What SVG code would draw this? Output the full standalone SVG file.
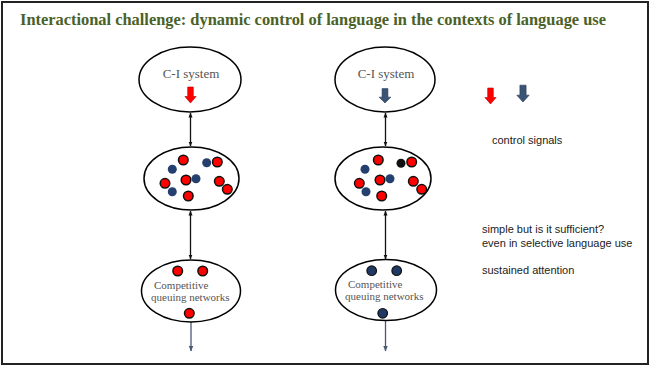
<svg xmlns="http://www.w3.org/2000/svg" width="651" height="367" viewBox="0 0 651 367">
<style>
.frame{fill:#fff;stroke:#222;stroke-width:2}
.title{font-family:"Liberation Serif",serif;font-weight:bold;font-size:16px;fill:#4A6127}
.ell{fill:#fff;stroke:#000;stroke-width:1.5}
.lbl{font-family:"Liberation Serif",serif;font-size:13px;fill:#555}
.lbl2{font-family:"Liberation Serif",serif;font-size:11px;fill:#555}
.side{font-family:"Liberation Sans",Arial,sans-serif;font-size:11px;fill:#222}
.red{fill:#FF0000;stroke:#111;stroke-width:1.5}
.navy{fill:#1F3864;stroke:#111;stroke-width:1.2}
.blur{fill:#24406E}
.blk{fill:#111}
.dbl{stroke:#111;stroke-width:1.3;fill:none;marker-start:url(#ah);marker-end:url(#ah)}
.out{stroke:#4A5A75;stroke-width:1.3;fill:none;marker-end:url(#ahb)}
.rarrow{fill:#FF0000;stroke:#B00000;stroke-width:0.6}
.barrow{fill:#3B5476;stroke:#2A3E58;stroke-width:0.6}
</style>
<defs>
<marker id="ah" viewBox="0 0 10 10" refX="9" refY="5" markerWidth="5" markerHeight="5" orient="auto-start-reverse" markerUnits="userSpaceOnUse">
<path d="M0,1 L10,5 L0,9 Z" fill="#111"/>
</marker>
<marker id="ahb" viewBox="0 0 10 10" refX="9" refY="5" markerWidth="6" markerHeight="6" orient="auto" markerUnits="userSpaceOnUse">
<path d="M0,1 L10,5 L0,9 Z" fill="#4A5A75"/>
</marker>
<path id="blockArrow" d="M-2.8,-16 L2.8,-16 L2.8,-6.5 L5.6,-6.5 L0,0 L-5.6,-6.5 L-2.8,-6.5 Z"/>
</defs>

<rect class="frame" x="2" y="2" width="646" height="362"/>
<text class="title" x="20" y="25" textLength="586" lengthAdjust="spacingAndGlyphs">Interactional challenge: dynamic control of language in the contexts of language use</text>

<g id="connectors">
<line class="dbl" x1="190.5" y1="113" x2="190.5" y2="146"/>
<line class="dbl" x1="190.5" y1="211" x2="190.5" y2="259"/>
<line class="out" x1="191" y1="322" x2="191" y2="351"/>
<line class="dbl" x1="385.5" y1="113" x2="385.5" y2="146"/>
<line class="dbl" x1="385.5" y1="211" x2="385.5" y2="259"/>
<line class="out" x1="385.5" y1="321" x2="385.5" y2="351"/>
</g>

<g id="ci-left">
<ellipse class="ell" cx="190" cy="79.5" rx="51" ry="32.5"/>
<text class="lbl" x="191" y="78" text-anchor="middle">C-I system</text>
<use href="#blockArrow" class="rarrow" transform="translate(190.5,103)"/>
</g>

<g id="pool-left">
<ellipse class="ell" cx="191.5" cy="178.5" rx="47.5" ry="31.5"/>
<circle class="blur" cx="172.3" cy="169.3" r="4.5"/>
<circle class="blur" cx="206.7" cy="162.7" r="4.5"/>
<circle class="blur" cx="172.3" cy="191.7" r="4.5"/>
<circle class="blur" cx="196" cy="178.7" r="4.5"/>
<circle class="red" cx="183.3" cy="160" r="4.8"/>
<circle class="red" cx="217.3" cy="162" r="4.8"/>
<circle class="red" cx="165" cy="183.3" r="4.8"/>
<circle class="red" cx="186" cy="180" r="4.8"/>
<circle class="red" cx="219.3" cy="181.3" r="4.8"/>
<circle class="red" cx="227.3" cy="189.3" r="4.8"/>
<circle class="red" cx="188.3" cy="196" r="4.8"/>
</g>

<g id="cqn-left">
<ellipse class="ell" cx="191" cy="291" rx="49.5" ry="31"/>
<circle class="red" cx="177.7" cy="271" r="4.8"/>
<circle class="red" cx="202.7" cy="271" r="4.8"/>
<circle class="red" cx="189.3" cy="313.3" r="4.8"/>
<text class="lbl2" x="154" y="289">Competitive</text>
<text class="lbl2" x="151" y="300.5">queuing networks</text>
</g>

<g id="ci-right">
<ellipse class="ell" cx="385" cy="79.5" rx="50" ry="32.5"/>
<text class="lbl" x="386" y="78" text-anchor="middle">C-I system</text>
<use href="#blockArrow" class="barrow" transform="translate(385,103) scale(1.05,0.9)"/>
</g>

<g id="pool-right">
<ellipse class="ell" cx="383" cy="178.5" rx="48" ry="31.5"/>
<circle class="blur" cx="365" cy="169.3" r="4.5"/>
<circle class="blur" cx="390" cy="178.7" r="4.5"/>
<circle class="blur" cx="366" cy="191.7" r="4.5"/>
<circle class="blk" cx="401" cy="163.3" r="4.5"/>
<circle class="red" cx="378.3" cy="160" r="4.8"/>
<circle class="red" cx="411.7" cy="162" r="4.8"/>
<circle class="red" cx="359.3" cy="183.3" r="4.8"/>
<circle class="red" cx="380" cy="180" r="4.8"/>
<circle class="red" cx="413.3" cy="181.3" r="4.8"/>
<circle class="red" cx="421.7" cy="189.3" r="4.8"/>
<circle class="red" cx="381.7" cy="196" r="4.8"/>
</g>

<g id="cqn-right">
<ellipse class="ell" cx="386" cy="290" rx="50.5" ry="30.5"/>
<circle class="navy" cx="371.7" cy="270.7" r="4.8"/>
<circle class="navy" cx="396.7" cy="270.7" r="4.8"/>
<circle class="navy" cx="382.7" cy="313.3" r="4.8"/>
<text class="lbl2" x="348" y="288">Competitive</text>
<text class="lbl2" x="345" y="299.5">queuing networks</text>
</g>

<g id="legend">
<use href="#blockArrow" class="rarrow" transform="translate(490.5,104)"/>
<use href="#blockArrow" class="barrow" transform="translate(523,102) scale(1.1,1.05)"/>
<text class="side" x="492" y="144">control signals</text>
<text class="side" x="482" y="232.5">simple but is it sufficient?</text>
<text class="side" x="482" y="246.5">even in selective language use</text>
<text class="side" x="482" y="274">sustained attention</text>
</g>
</svg>
